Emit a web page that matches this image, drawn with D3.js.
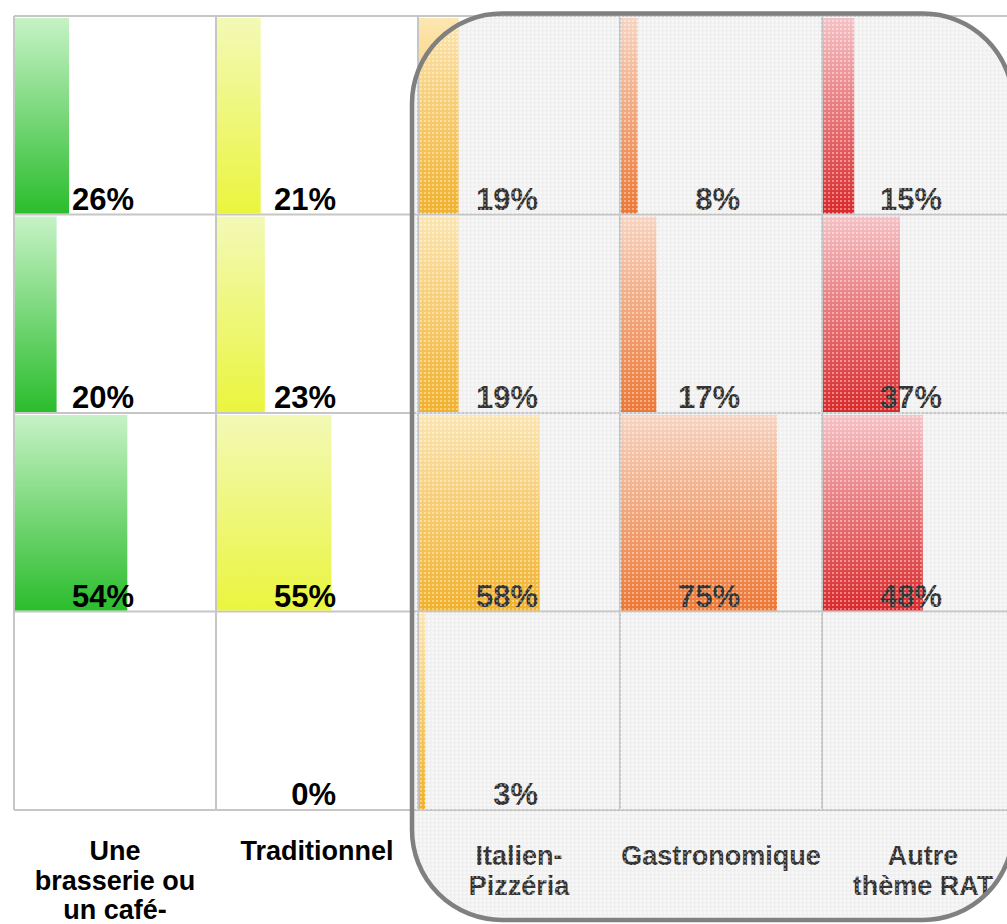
<!DOCTYPE html>
<html>
<head>
<meta charset="utf-8">
<script src="https://cdn.jsdelivr.net/npm/d3@7.9.0/dist/d3.min.js"></script>
<style>
  html, body { margin: 0; padding: 0; background: #fff; }
  svg { display: block; font-family: "Liberation Sans", Arial, sans-serif; }
</style>
</head>
<body>
<svg id="chart" width="1007" height="924"></svg>
<script>
const categories = ['Une brasserie ou un café-bar', 'Traditionnel', 'Italien-Pizzéria', 'Gastronomique', 'Autre thème RAT'];
const categoryLines = [['Une', 'brasserie ou', 'un café-'], ['Traditionnel'], ['Italien-', 'Pizzéria'], ['Gastronomique'], ['Autre', 'thème RAT']];
const rowKeys = ['r1', 'r2', 'r3', 'r4'];
const row1 = [26, 21, 19, 8, 15];
const row2 = [20, 23, 19, 17, 37];
const row3 = [54, 55, 58, 75, 48];
const row4 = [null, 0, 3, null, null];
const topColors = ['#c6f2c6', '#f3f9b6', '#fde6b2', '#f8d5c2', '#f7c2c6'];
const bottomColors = ['#2bbd2d', '#eaf53e', '#f4b126', '#f07630', '#dc2628'];
// columns drawn inside the rounded "highlight" box
const boxed = [false, false, true, true, true];

const rows = [row1, row2, row3, row4];

const svg = d3.select('#chart');
const defs = svg.append('defs');

let x = d3.scaleBand().domain(categories).range([14, 1024]);
let y = d3.scaleBand().domain(rowKeys).range([16, 810]);
let w = d3.scaleLinear().domain([0, 100]).range([0, 208]);

categories.forEach((c, i) => {
  let g = defs.append('linearGradient')
    .attr('id', 'grad' + i)
    .attr('x1', 0).attr('y1', 0).attr('x2', 0).attr('y2', 1);
  g.append('stop').attr('offset', '0%').attr('stop-color', topColors[i]);
  g.append('stop').attr('offset', '100%').attr('stop-color', bottomColors[i]);
});

// dotted texture of the box
let pat = defs.append('pattern')
  .attr('id', 'dots')
  .attr('width', 4).attr('height', 4)
  .attr('patternUnits', 'userSpaceOnUse');
pat.append('rect').attr('x', 0).attr('y', 0).attr('width', 2).attr('height', 2)
  .attr('fill', '#fff').attr('opacity', 0.4);
pat.append('rect').attr('x', 2).attr('y', 2).attr('width', 1).attr('height', 1)
  .attr('fill', '#999').attr('opacity', 0.12);

const box = { x: 412, y: 13.5, width: 601, height: 906.5, r: 90 };
defs.append('clipPath').attr('id', 'boxClip')
  .append('rect')
  .attr('x', box.x).attr('y', box.y)
  .attr('width', box.width).attr('height', box.height)
  .attr('rx', box.r).attr('ry', box.r);

svg.append('rect')
  .attr('x', box.x).attr('y', box.y)
  .attr('width', box.width).attr('height', box.height)
  .attr('rx', box.r).attr('ry', box.r)
  .attr('fill', '#f2f2f2');

// grid
let grid = svg.append('g').attr('stroke', '#c6c6c6').attr('stroke-width', 2);
let xEdges = categories.map((c) => x(c)).concat([x.range()[1]]);
let yEdges = rowKeys.map((r) => y(r)).concat([y.range()[1]]);
xEdges.forEach((xe) => {
  grid.append('line').attr('x1', xe).attr('x2', xe).attr('y1', yEdges[0]).attr('y2', yEdges[yEdges.length - 1]);
});
yEdges.forEach((ye) => {
  grid.append('line').attr('x1', xEdges[0]).attr('x2', xEdges[xEdges.length - 1]).attr('y1', ye).attr('y2', ye);
});

// bars and value labels
let marks = svg.append('g');
rows.forEach((vals, ri) => {
  vals.forEach((v, ci) => {
    if (v === null) return;
    let cx = x(categories[ci]);
    let ry = y(rowKeys[ri]);
    if (v > 0) {
      marks.append('rect')
        .attr('x', cx + 1)
        .attr('y', ry + 2)
        .attr('width', w(v))
        .attr('height', y.bandwidth() - 3)
        .attr('fill', `url(#grad${ci})`);
    }
    marks.append('text')
      .attr('x', cx + 120)
      .attr('y', ry + y.bandwidth() - 5)
      .attr('text-anchor', 'end')
      .attr('font-size', 31)
      .attr('font-weight', 'bold')
      .attr('fill', boxed[ci] ? '#333' : '#000')
      .text(v + '%');
  });
});

// category labels
let labels = svg.append('g');
categoryLines.forEach((lines, ci) => {
  let t = labels.append('text')
    .attr('x', x(categories[ci]) + x.bandwidth() / 2)
    .attr('y', boxed[ci] ? 865 : 860)
    .attr('text-anchor', 'middle')
    .attr('font-size', 27)
    .attr('font-weight', 'bold')
    .attr('fill', boxed[ci] ? '#333' : '#000');
  lines.forEach((l, li) => {
    t.append('tspan')
      .attr('x', x(categories[ci]) + x.bandwidth() / 2)
      .attr('dy', li === 0 ? 0 : 29.5)
      .text(l);
  });
});

// texture overlay + frame
svg.append('rect')
  .attr('x', box.x).attr('y', box.y)
  .attr('width', box.width).attr('height', box.height)
  .attr('clip-path', 'url(#boxClip)')
  .attr('fill', 'url(#dots)');

svg.append('rect')
  .attr('x', box.x).attr('y', box.y)
  .attr('width', box.width).attr('height', box.height)
  .attr('rx', box.r).attr('ry', box.r)
  .attr('fill', 'none')
  .attr('stroke', '#808080')
  .attr('stroke-width', 4.5);
</script>
</body>
</html>
